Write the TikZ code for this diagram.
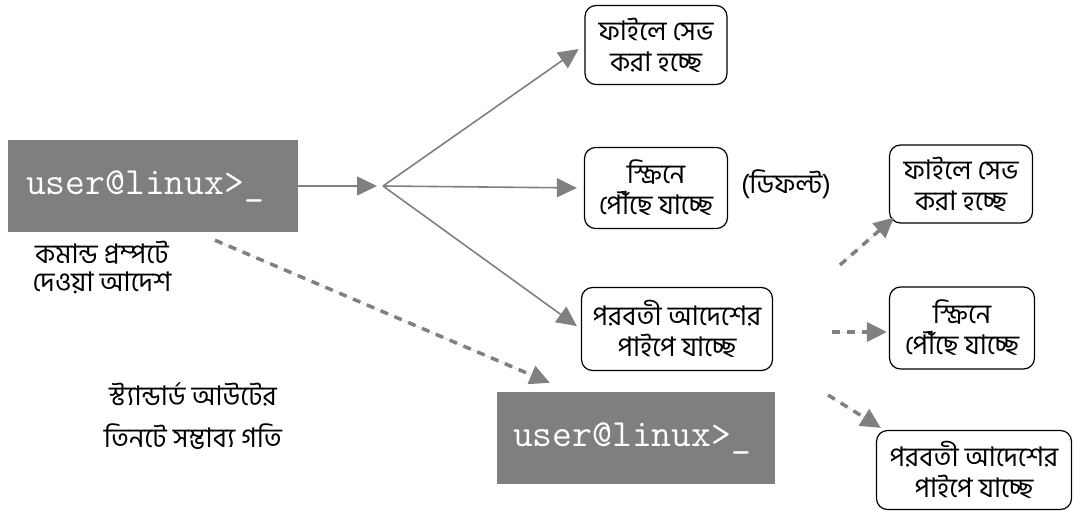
\documentclass[tikz,border=0pt]{standalone}
\usepackage{fontspec}
\usetikzlibrary{arrows.meta,calc}
\newfontfamily\bn[Script=Bengali]{Hind Siliguri}
\definecolor{flow}{HTML}{808080}
\definecolor{termbg}{HTML}{7F7F7F}
\newcommand{\prompt}[1]{\raisebox{-5pt}{user@linux>\_}\hspace*{#1}}
\tikzset{
  termbox/.style={fill=termbg, draw=none, minimum width=#1, minimum height=92pt,
    inner sep=0pt, text=white, font=\ttfamily\fontsize{38.5}{40}\selectfont},
  dest/.style={draw=black, line width=1.2pt, rounded corners=11pt, align=center,
    inner sep=0pt, font=\bn\fontsize{27}{31}\selectfont},
  note/.style={align=center, inner sep=0pt, font=\bn\fontsize{27}{28}\selectfont},
  tip/.style={-{Triangle[length=20pt,width=19pt]}},
  solidflow/.style={tip, draw=flow, fill=flow, line width=1.6pt},
  dashflow/.style={tip, draw=flow, fill=flow, line width=3.5pt,
    dash pattern=on 8pt off 7pt},
}
\begin{document}
\begin{tikzpicture}[x=1pt, y=-1pt]
\useasboundingbox (0,0) rectangle (1084,511);

% command prompt and the prompt of the next command
\node[termbox=290pt] (cmd) at (153,186) {\prompt{16pt}};
\node[termbox=278pt] (nxt) at (636,438) {\prompt{8pt}};

% destinations of the first command
\node[dest, minimum width=142pt, minimum height=79pt] (file1) at (656,45)
  {ফাইলে সেভ\\করা হচ্ছে};
\node[dest, minimum width=143pt, minimum height=81pt] (scr1) at (656,188)
  {স্ক্রিনে\\পৌঁছে যাচ্ছে};
\node[dest, minimum width=191pt, minimum height=83pt] (pipe1) at (677,329)
  {পরবতী আদেশের\\পাইপে যাচ্ছে};

% destinations of the second command
\node[dest, minimum width=143pt, minimum height=78pt] (file2) at (961,184)
  {ফাইলে সেভ\\করা হচ্ছে};
\node[dest, minimum width=145pt, minimum height=82pt] (scr2) at (962,328)
  {স্ক্রিনে\\পৌঁছে যাচ্ছে};
\node[dest, minimum width=195pt, minimum height=79pt] (pipe2) at (974,470)
  {পরবতী আদেশের\\পাইপে যাচ্ছে};

% labels
\node[note] (dflt) at (786,184) {(ডিফল্ট)};
\node[note] (cmdlbl) at (102,267) {কমান্ড প্রম্পটে\\দেওয়া আদেশ};
\node[note, font=\bn\fontsize{27}{42}\selectfont] (title) at (193,416)
  {স্ট্যান্ডার্ড আউটের\\তিনটে সম্ভাব্য গতি};

% fan out of the first command
\coordinate (j) at (383,186);
\draw[solidflow] (cmd.east) -- ($(j)+(-6,0)$);
\draw[solidflow, shorten >=7pt] (j) -- (file1.west);
\draw[solidflow, shorten >=7pt] (j) -- (scr1.west);
\draw[solidflow, shorten >=5pt] (j) -- (pipe1.west);
\draw[dashflow] ($(cmd.south)+(62,8)$) -- ($(nxt.north west)+(53,-9)$);

% fan out of the second command
\coordinate (d1) at (840,265);
\coordinate (d2) at (832,332);
\coordinate (d3) at (828,395);
\draw[dashflow] (d1) -- ($(file2.south west)+(5,-6)$);
\draw[dashflow] (d2) -- ($(scr2.west)+(-2,4)$);
\draw[dashflow] (d3) -- ($(pipe2.north west)+(5,-2)$);
\end{tikzpicture}
\end{document}
